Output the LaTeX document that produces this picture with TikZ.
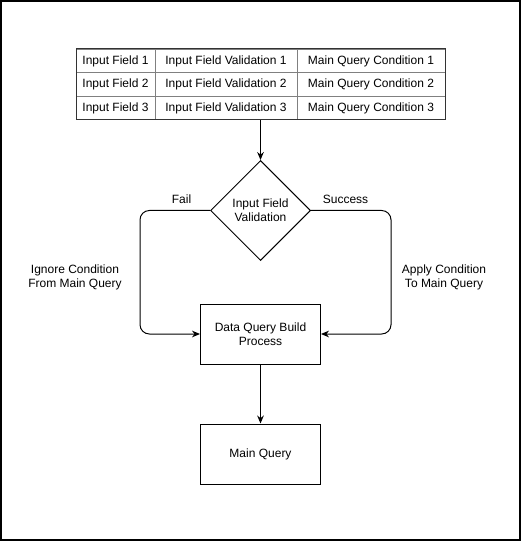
\documentclass[tikz,border=0pt]{standalone}
\usepackage{fontspec}
\setmainfont{Liberation Sans}
\usetikzlibrary{shapes.geometric,arrows.meta}
\begin{document}
\begin{tikzpicture}[x=0.75pt,y=-0.75pt,
  every node/.style={font=\fontsize{9pt}{10.5pt}\selectfont},
  cell/.style={draw=black!50, line width=0.75pt, inner sep=0pt, minimum height=17.6pt},
  proc/.style={draw, line width=0.75pt, minimum width=90pt, minimum height=45pt, inner sep=0pt, align=center},
  arr/.style={line width=0.75pt, -{Stealth[length=6pt,width=5pt]}},
  lbl/.style={inner sep=0pt, align=center}]
\useasboundingbox (0,0) rectangle (521,541);
\draw[line width=1.5pt] (1,1) rectangle (520,540);
% table
\node[cell, minimum width=59.25pt] (c11) at (115.5,61) {Input Field 1};
\node[cell, minimum width=106.5pt] (c12) at (226,61) {Input Field Validation 1};
\node[cell, minimum width=111pt] (c13) at (371,61) {Main Query Condition 1};
\node[cell, minimum width=59.25pt] (c21) at (115.5,84.5) {Input Field 2};
\node[cell, minimum width=106.5pt] (c22) at (226,84.5) {Input Field Validation 2};
\node[cell, minimum width=111pt] (c23) at (371,84.5) {Main Query Condition 2};
\node[cell, minimum width=59.25pt] (c31) at (115.5,108) {Input Field 3};
\node[cell, minimum width=106.5pt] (c32) at (226,108) {Input Field Validation 3};
\node[cell, minimum width=111pt] (c33) at (371,108) {Main Query Condition 3};
\node[draw=black!80, line width=0.75pt, minimum width=276.75pt, minimum height=53.25pt, inner sep=0pt] (table) at (260.5,84.5) {};
% diamond
\node[draw, diamond, line width=0.75pt, minimum width=75pt, minimum height=75pt, inner sep=0pt, align=center] (dia) at (260.5,210.5) {Input Field\\Validation};
% boxes
\node[proc] (dq) at (260.5,334) {Data Query Build\\Process};
\node[proc] (mq) at (260.5,454) {Main Query};
% connectors
\draw[arr] (table.south) -- (dia.north);
\draw[arr, rounded corners=7pt] (dia.west) -- ++(-70,0) |- (dq.west);
\draw[arr, rounded corners=7pt] (dia.east) -- ++(80,0) |- (dq.east);
\draw[arr] (dq.south) -- (mq.north);
% labels
\node[lbl] (fail) at (181.5,199.5) {Fail};
\node[lbl] (succ) at (345.5,199.5) {Success};
\node[lbl] (ign) at (75,277) {Ignore Condition\\From Main Query};
\node[lbl] (app) at (444,277) {Apply Condition\\To Main Query};
\end{tikzpicture}
\end{document}
